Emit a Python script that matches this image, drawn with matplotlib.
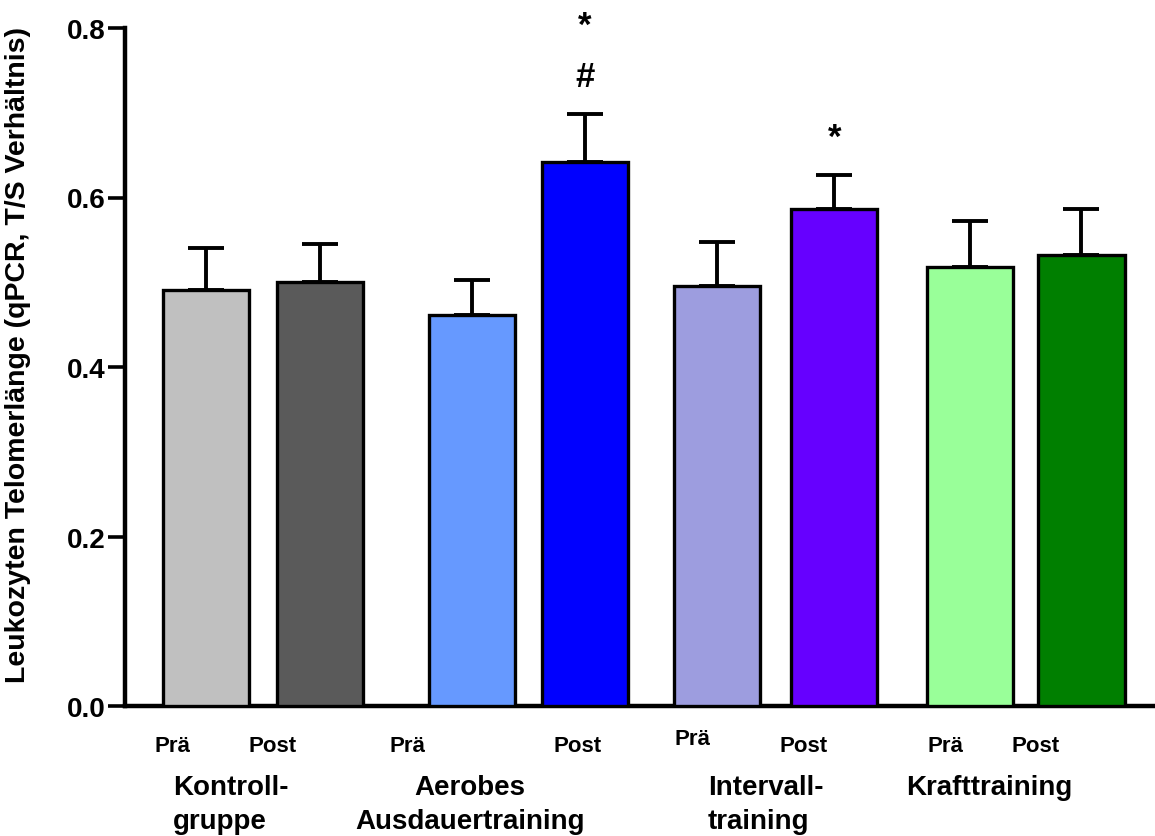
import matplotlib
matplotlib.use("Agg")
from matplotlib import pyplot as plt

plt.rcParams['font.family'] = ['Liberation Sans', 'DejaVu Sans']
plt.rcParams['font.weight'] = 'bold'

# data
phases = ["Prä", "Post", "Prä", "Post", "Prä", "Post", "Prä", "Post"]
groups = ["Kontroll-\ngruppe", "Aerobes\nAusdauertraining", "Intervall-\ntraining", "Krafttraining"]
means = [0.491, 0.500, 0.461, 0.642, 0.496, 0.586, 0.518, 0.532]
sem = [0.050, 0.045, 0.042, 0.056, 0.051, 0.041, 0.054, 0.054]
colors = ["#c0c0c0", "#5a5a5a", "#6699ff", "#0000ff", "#9d9ddf", "#6600ff", "#99ff99", "#007f00"]
marks = {3: ["#", "*"], 5: ["*"]}

# layout (bar centres, in bar-pitch units)
xpos = [0, 1, 2.333, 3.325, 4.482, 5.513, 6.706, 7.68]
W, H = 1155, 837

fig = plt.figure(figsize=(W / 100, H / 100), dpi=100)
ax = fig.add_axes([125 / W, 1 - 707 / H, 1 - 125 / W, (707 - 29) / H])

ax.bar(xpos, means, width=0.755, color=colors, edgecolor="black", linewidth=2.4, zorder=3)
ax.errorbar(xpos, means, yerr=[[0] * len(means), sem], fmt="none", ecolor="black",
            elinewidth=2.8, capsize=12.8, capthick=2.8, zorder=2)

for i, syms in marks.items():
    top = means[i] + sem[i]
    for k, s in enumerate(syms):
        ax.annotate(s, (xpos[i], top), xytext=(0, 27 + k * 37), textcoords="offset points",
                    ha="center", va="center", fontsize=25, fontweight="bold", annotation_clip=False)

ax.set_xlim(-0.711, 8.325)
ax.set_ylim(0, 0.8)
ax.set_yticks([0.0, 0.2, 0.4, 0.6, 0.8])
ax.set_yticklabels(["0.0", "0.2", "0.4", "0.6", "0.8"])
ax.set_xticks([])
ax.tick_params(axis="y", length=12, width=2.6, labelsize=20, pad=2)
for lab in ax.get_yticklabels():
    lab.set_fontweight("bold")
for s in ["top", "right"]:
    ax.spines[s].set_visible(False)
ax.spines["left"].set_linewidth(3.2)
ax.spines["bottom"].set_linewidth(3.2)

ax.set_ylabel("Leukozyten Telomerlänge (qPCR, T/S Verhältnis)", fontsize=20.5, fontweight="bold")
ax.yaxis.set_label_coords((31 - 125) / (W - 125), (707 - 355) / 678)

# phase labels under bars
phase_px = [(172, 746), (273, 746), (407, 746), (578, 746), (693, 740), (804, 746), (945, 746), (1036, 746)]
for txt, (px, py) in zip(phases, phase_px):
    fig.text(px / W, 1 - py / H, txt, ha="center", va="center", fontsize=16, fontweight="bold")

group_px = [(173, 786, "left"), (470, 786, "center"), (708, 786, "left"), (989, 786, "center")]
for txt, (px, py, ha) in zip(groups, group_px):
    fig.text(px / W, 1 - (py - 11) / H, txt, ha=ha, va="top", fontsize=20, fontweight="bold",
             multialignment=ha, linespacing=1.38)

fig.savefig("out.png", dpi=100)
